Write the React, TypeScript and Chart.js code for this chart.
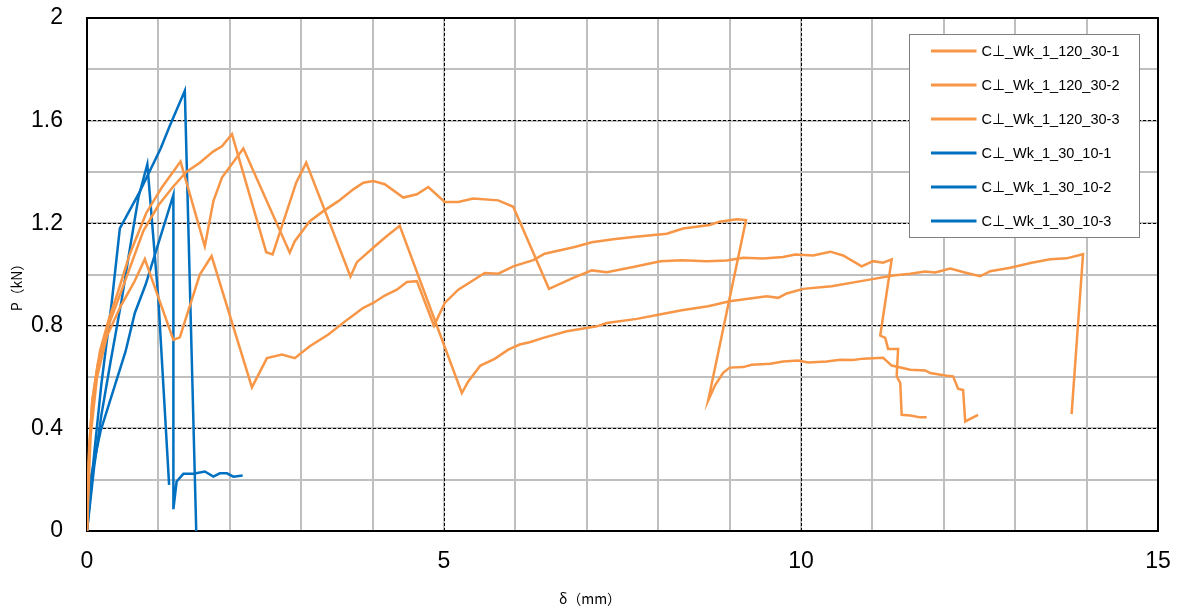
import React, { useEffect, useRef } from 'react';
import { Chart, registerables } from 'chart.js';

Chart.register(...registerables);

// ---------- data ----------
const seriesLabels = [
  'C⊥_Wk_1_120_30-1',
  'C⊥_Wk_1_120_30-2',
  'C⊥_Wk_1_120_30-3',
  'C⊥_Wk_1_30_10-1',
  'C⊥_Wk_1_30_10-2',
  'C⊥_Wk_1_30_10-3',
];
const seriesColors = ['#F79646', '#F79646', '#F79646', '#0070C0', '#0070C0', '#0070C0'];

const s1x = [0, 0.02, 0.07, 0.15, 0.3, 0.5, 0.79, 1.0, 1.2, 1.39, 1.58, 1.77, 1.89, 2.03, 2.51, 2.6, 2.93, 3.07, 3.69, 3.78, 4.06, 4.2, 4.38, 5.25, 5.34, 5.51, 5.71, 5.9, 6.06, 6.2, 6.39, 6.72, 7.14, 7.28, 7.7, 8.02, 8.33, 8.7, 9.0, 9.52, 9.68, 9.8, 10.03, 10.43, 10.92, 11.29, 11.53, 11.74, 11.88, 12.09, 12.32, 12.51, 12.65, 12.93, 13.23, 13.49, 13.72, 13.95, 13.79];
const s1y = [0, 0.25, 0.5, 0.65, 0.8, 0.95, 1.17, 1.27, 1.34, 1.4, 1.436, 1.48, 1.5, 1.547, 1.087, 1.078, 1.358, 1.436, 0.992, 1.048, 1.117, 1.15, 1.19, 0.538, 0.583, 0.645, 0.671, 0.707, 0.727, 0.736, 0.753, 0.779, 0.798, 0.811, 0.827, 0.844, 0.861, 0.876, 0.896, 0.915, 0.909, 0.926, 0.944, 0.954, 0.978, 0.996, 1.003, 1.012, 1.008, 1.023, 1.006, 0.993, 1.013, 1.026, 1.046, 1.059, 1.063, 1.079, 0.456];

const s2x = [0, 0.03, 0.08, 0.18, 0.3, 0.42, 0.6, 0.83, 1.05, 1.31, 1.65, 1.77, 1.89, 2.19, 2.84, 2.91, 3.12, 3.31, 3.52, 3.73, 3.87, 4.01, 4.17, 4.43, 4.62, 4.78, 5.01, 5.2, 5.41, 5.76, 5.97, 6.47, 6.81, 7.07, 7.28, 7.65, 8.03, 8.33, 8.68, 8.96, 9.19, 9.47, 9.75, 9.92, 10.17, 10.41, 10.59, 10.85, 11.01, 11.15, 11.27, 11.11, 11.18, 11.22, 11.36, 11.34, 11.39, 11.41, 11.53, 11.67, 11.76];
const s2y = [0, 0.33, 0.52, 0.7, 0.82, 0.92, 1.08, 1.24, 1.34, 1.44, 1.11, 1.286, 1.378, 1.491, 1.085, 1.13, 1.208, 1.247, 1.286, 1.332, 1.358, 1.364, 1.352, 1.3, 1.313, 1.341, 1.283, 1.283, 1.296, 1.289, 1.264, 0.944, 0.987, 1.016, 1.009, 1.029, 1.052, 1.056, 1.052, 1.055, 1.065, 1.062, 1.068, 1.078, 1.074, 1.089, 1.074, 1.032, 1.052, 1.046, 1.059, 0.762, 0.753, 0.71, 0.71, 0.603, 0.577, 0.453, 0.45, 0.443, 0.443];

const s3x = [0, 0.05, 0.14, 0.28, 0.47, 0.66, 0.81, 1.21, 1.3, 1.58, 1.745, 2.31, 2.52, 2.73, 2.91, 3.12, 3.38, 3.66, 3.87, 4.01, 4.17, 4.34, 4.48, 4.62, 4.86, 5.01, 5.2, 5.57, 5.76, 5.97, 6.25, 6.41, 6.83, 7.07, 7.37, 7.65, 8.12, 8.35, 8.72, 8.86, 9.1, 9.23, 8.7, 8.8, 8.91, 9.0, 9.19, 9.31, 9.57, 9.75, 9.96, 10.1, 10.36, 10.55, 10.73, 10.87, 11.15, 11.27, 11.53, 11.74, 11.81, 12.04, 12.13, 12.2, 12.27, 12.3, 12.48];
const s3y = [0, 0.37, 0.6, 0.76, 0.876, 0.97, 1.06, 0.745, 0.755, 1.0, 1.072, 0.56, 0.674, 0.688, 0.674, 0.72, 0.766, 0.827, 0.87, 0.889, 0.918, 0.941, 0.971, 0.974, 0.8, 0.889, 0.941, 1.006, 1.003, 1.032, 1.056, 1.081, 1.107, 1.126, 1.137, 1.146, 1.159, 1.179, 1.193, 1.206, 1.215, 1.212, 0.509, 0.57, 0.617, 0.637, 0.639, 0.648, 0.652, 0.661, 0.665, 0.657, 0.661, 0.668, 0.667, 0.672, 0.675, 0.645, 0.629, 0.626, 0.616, 0.605, 0.603, 0.555, 0.55, 0.427, 0.453];

const s4x = [0, 0.1, 0.2, 0.35, 0.46, 0.73, 1.03, 1.16, 1.37, 1.53];
const s4y = [0, 0.3, 0.57, 0.9, 1.18, 1.318, 1.49, 1.58, 1.716, 0];

const s5x = [0, 0.1, 0.2, 0.33, 0.485, 0.6, 0.72, 0.845, 1.0, 1.15];
const s5y = [0, 0.25, 0.45, 0.66, 0.9, 1.1, 1.3, 1.43, 0.902, 0.18];

const s6x = [0, 0.04, 0.19, 0.54, 0.67, 0.82, 1.21, 1.21, 1.255, 1.35, 1.49, 1.65, 1.77, 1.86, 1.96, 2.05, 2.18];
const s6y = [0, 0.19, 0.39, 0.7, 0.85, 0.96, 1.31, 0.085, 0.193, 0.223, 0.223, 0.232, 0.212, 0.225, 0.225, 0.212, 0.216];

const seriesX = [s1x, s2x, s3x, s4x, s5x, s6x];
const seriesY = [s1y, s2y, s3y, s4y, s5y, s6y];

const xTickValues = [0, 5, 10, 15];
const yTickValues = [0, 0.4, 0.8, 1.2, 1.6, 2];
const xAxisTitle = 'δ（mm）';
const yAxisTitle = 'P（kN）';

// ---------- plugins ----------
const framePlugin = {
  id: 'frame',
  beforeDatasetsDraw(chart: any) {
    const { ctx, chartArea } = chart;
    const { left, top, right, bottom } = chartArea;
    ctx.save();
    ctx.strokeStyle = '#000';
    ctx.lineWidth = 2;
    ctx.beginPath();
    ctx.moveTo(left - 1, top);
    ctx.lineTo(right, top);
    ctx.lineTo(right, bottom + 1);
    ctx.stroke();
    ctx.restore();
  },
};

const titlesPlugin = {
  id: 'axisTitles',
  afterDraw(chart: any) {
    const { ctx, chartArea } = chart;
    ctx.save();
    ctx.fillStyle = '#000';
    ctx.font = '14px "Noto Sans CJK JP", sans-serif';
    ctx.textAlign = 'center';
    ctx.textBaseline = 'middle';
    ctx.fillText(xAxisTitle, chartArea.left + 503, chart.height - 10);
    ctx.translate(17, chartArea.top + 266);
    ctx.rotate(-Math.PI / 2);
    ctx.fillText(yAxisTitle, 0, 0);
    ctx.restore();
  },
};

const legendPlugin = {
  id: 'boxLegend',
  afterDraw(chart: any) {
    const { ctx, chartArea } = chart;
    const bx = Math.round(chartArea.right - 249) + 0.5;
    const by = Math.round(chartArea.top + 16) + 0.5;
    const bw = 230;
    const bh = 203;
    ctx.save();
    ctx.fillStyle = '#fff';
    ctx.fillRect(bx, by, bw, bh);
    ctx.strokeStyle = '#808080';
    ctx.lineWidth = 1;
    ctx.strokeRect(bx, by, bw, bh);
    ctx.font = '14.5px "Liberation Sans", Arial, sans-serif';
    ctx.textAlign = 'left';
    ctx.textBaseline = 'middle';
    chart.data.datasets.forEach((ds: any, i: number) => {
      const y = by + 16.5 + i * 34;
      ctx.strokeStyle = ds.borderColor;
      ctx.lineWidth = 3;
      ctx.beginPath();
      ctx.moveTo(bx + 21.5, y);
      ctx.lineTo(bx + 67, y);
      ctx.stroke();
      ctx.fillStyle = '#000';
      ctx.fillText(ds.label, bx + 72, y + 1);
    });
    ctx.restore();
  },
};

const tickFont = { family: '"Liberation Sans", Arial, sans-serif', size: 23 };

export default function App() {
  const canvasRef = useRef<HTMLCanvasElement | null>(null);

  useEffect(() => {
    const canvas = canvasRef.current;
    if (!canvas) return;
    const datasets = seriesLabels.map((label, i) => ({
      label,
      data: seriesX[i].map((x, j) => ({ x, y: seriesY[i][j] })),
      borderColor: seriesColors[i],
      backgroundColor: seriesColors[i],
      borderWidth: 2.5,
      pointRadius: 0,
      pointHoverRadius: 0,
      tension: 0,
      fill: false,
    }));

    const chart = new Chart(canvas, {
      type: 'line',
      data: { datasets },
      options: {
        animation: false,
        responsive: false,
        maintainAspectRatio: false,
        layout: { padding: { left: 0, top: 18, right: 20, bottom: 0 } },
        plugins: {
          legend: { display: false },
          tooltip: { enabled: false },
          title: { display: false },
        },
        scales: {
          xMinor: {
            type: 'linear',
            position: 'bottom',
            min: 0,
            max: 15,
            ticks: { display: false, stepSize: 1 },
            grid: { color: '#BFBFBF', lineWidth: 2, drawTicks: false, z: -1 },
            border: { display: false },
            afterFit: (s: any) => { s.height = 0; s.paddingLeft = 0; s.paddingRight = 0; },
          },
          yMinor: {
            type: 'linear',
            position: 'left',
            min: 0,
            max: 2,
            ticks: { display: false, stepSize: 0.2 },
            grid: { color: '#BFBFBF', lineWidth: 2, drawTicks: false, z: -1 },
            border: { display: false },
            afterFit: (s: any) => { s.width = 0; s.paddingTop = 0; s.paddingBottom = 0; },
          },
          x: {
            type: 'linear',
            position: 'bottom',
            min: 0,
            max: 15,
            afterBuildTicks: (s: any) => { s.ticks = xTickValues.map((v) => ({ value: v })); },
            ticks: {
              color: '#000',
              font: tickFont,
              padding: 17,
              maxRotation: 0,
              callback: (v: any) => String(v),
            },
            grid: { color: '#000', lineWidth: 1, drawTicks: false },
            border: { display: true, color: '#000', width: 2, dash: [3, 2] },
            afterFit: (s: any) => { s.height = 78; s.paddingLeft = 0; s.paddingRight = 0; },
          },
          y: {
            type: 'linear',
            position: 'left',
            min: 0,
            max: 2,
            afterBuildTicks: (s: any) => { s.ticks = yTickValues.map((v) => ({ value: v })); },
            ticks: {
              color: '#000',
              font: tickFont,
              padding: 24,
              callback: (v: any) => String(Math.round(v * 10) / 10),
            },
            grid: { color: '#000', lineWidth: 1, drawTicks: false },
            border: { display: true, color: '#000', width: 2, dash: [3, 2] },
            afterFit: (s: any) => { s.width = 87; s.paddingTop = 0; s.paddingBottom = 0; },
          },
        },
      } as any,
      plugins: [framePlugin, titlesPlugin, legendPlugin],
    });
    return () => chart.destroy();
  }, []);

  return (
    <div style={{ position: 'absolute', left: 0, top: 0, width: 1178, height: 609, background: '#fff' }}>
      <canvas ref={canvasRef} width={1178} height={609} style={{ display: 'block' }} />
    </div>
  );
}
